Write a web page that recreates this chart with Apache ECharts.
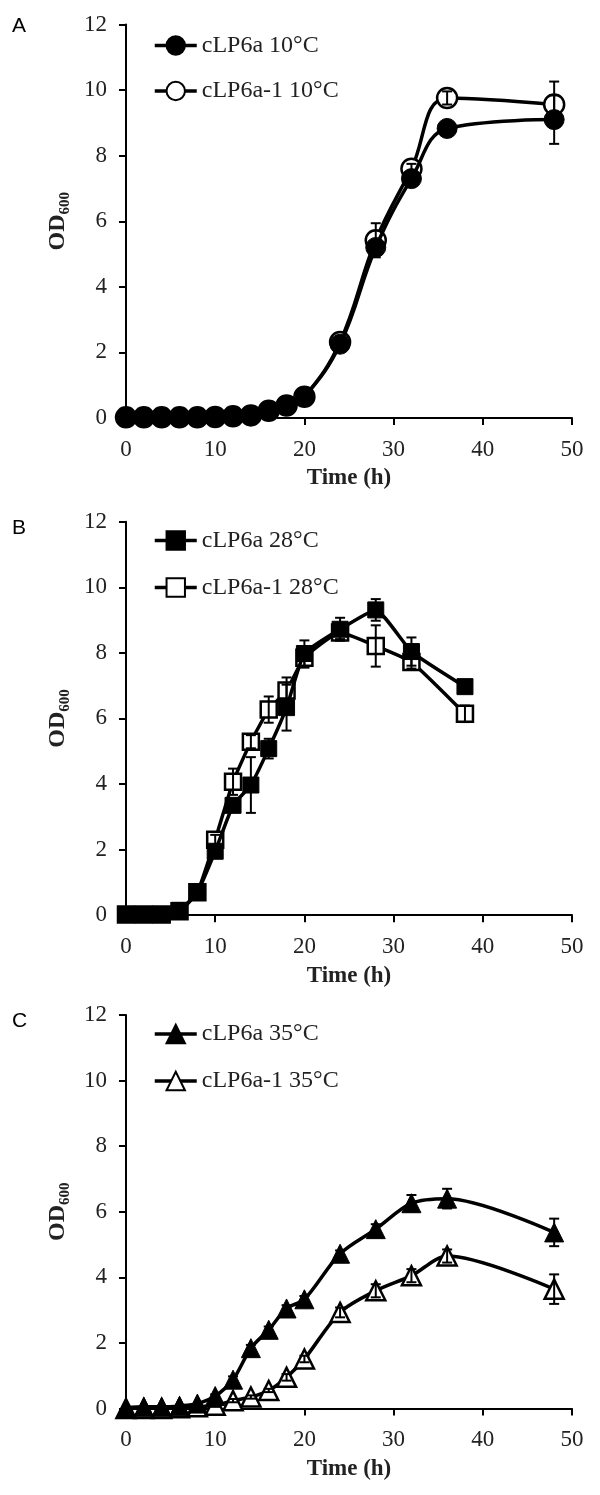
<!DOCTYPE html>
<html><head><meta charset="utf-8">
<script src="https://cdn.jsdelivr.net/npm/echarts@6/dist/echarts.min.js"></script>
<style>html,body{margin:0;padding:0;background:#fff}#c{width:600px;height:1495px}</style>
</head><body><div id="c"></div>
<script>
// ---- data ----
const xTicks = [0, 10, 20, 30, 40, 50];
const yTicks = [0, 2, 4, 6, 8, 10, 12];

const tA = [0,2,4,6,8,10,12,14,16,18,20,24,28,32,36,48];
const a10     = [0.02,0.02,0.02,0.02,0.02,0.03,0.05,0.08,0.22,0.38,0.65,2.25,5.2,7.3,8.83,9.1];
const a10Err  = [0,0,0,0,0,0,0,0,0.03,0.05,0.05,0.12,0.2,0.15,0.2,0.74];
const a10b    = [0.02,0.02,0.02,0.02,0.02,0.03,0.05,0.08,0.22,0.38,0.65,2.32,5.42,7.6,9.76,9.56];
const a10bErr = [0,0,0,0,0,0,0,0,0.03,0.05,0.05,0.15,0.52,0.15,0.2,0.7];

const tB = [0,2,4,6,8,10,12,14,16,18,20,24,28,32,38];
const b28     = [0.02,0.02,0.02,0.15,0.7,1.95,3.35,3.97,5.08,6.33,7.98,8.72,9.31,8.04,6.97];
const b28Err  = [0,0,0,0.05,0.1,0.15,0.2,0.85,0.3,0.7,0.4,0.35,0.33,0.43,0.1];
const b28b    = [0.02,0.02,0.02,0.12,0.7,2.3,4.07,5.29,6.27,6.85,7.85,8.62,8.21,7.72,6.14];
const b28bErr = [0,0,0,0.05,0.1,0.15,0.4,0.2,0.4,0.4,0.3,0.2,0.63,0.2,0.25];

const tC = [0,2,4,6,8,10,12,14,16,18,20,24,28,32,36,48];
const c35     = [0.02,0.05,0.05,0.08,0.15,0.38,0.88,1.84,2.4,3.05,3.33,4.72,5.47,6.26,6.4,5.37];
const c35Err  = [0,0,0,0,0,0.05,0.1,0.1,0.1,0.1,0.1,0.1,0.15,0.25,0.3,0.42];
const c35b    = [0,0,0,0.02,0.05,0.1,0.24,0.35,0.55,0.95,1.51,2.93,3.59,4.05,4.65,3.64];
const c35bErr = [0,0,0,0,0,0.05,0.05,0.05,0.05,0.1,0.1,0.15,0.2,0.2,0.2,0.45];

const names = [
  ['cLP6a 10°C', 'cLP6a-1 10°C'],
  ['cLP6a 28°C', 'cLP6a-1 28°C'],
  ['cLP6a 35°C', 'cLP6a-1 35°C']
];
const panelLabels = ['A', 'B', 'C'];

// ---- layout ----
const SERIF = '"Liberation Serif","Times New Roman",serif';
const TXT = '#222';
const gridTops = [24.5, 521.7, 1015];
const plotH = 393.5;

function pairs(t, v) { return t.map((x, i) => [x, v[i]]); }
function triples(t, v, e) { return t.map((x, i) => [x, v[i], e[i]]); }

function errRender(params, api) {
  const x = api.value(0), y = api.value(1), e = api.value(2);
  if (!e) return { type: 'group', children: [] };
  const hi = api.coord([x, y + e]), lo = api.coord([x, y - e]);
  const cap = 5;
  const st = { stroke: '#000', lineWidth: 2 };
  return { type: 'group', children: [
    { type: 'line', shape: { x1: hi[0], y1: hi[1], x2: lo[0], y2: lo[1] }, style: st },
    { type: 'line', shape: { x1: hi[0] - cap, y1: hi[1], x2: hi[0] + cap, y2: hi[1] }, style: st },
    { type: 'line', shape: { x1: lo[0] - cap, y1: lo[1], x2: lo[0] + cap, y2: lo[1] }, style: st }
  ]};
}

const grids = [], xAxes = [], yAxes = [], series = [], legends = [], graphics = [];
const panelData = [
  { t: tA, f: a10, fe: a10Err, o: a10b, oe: a10bErr, sym: 'circle', size: 20, smooth: 0.4 },
  { t: tB, f: b28, fe: b28Err, o: b28b, oe: b28bErr, sym: 'rect', size: 16, smooth: 0.15 },
  { t: tC, f: c35, fe: c35Err, o: c35b, oe: c35bErr, sym: 'triangle', size: 19, smooth: 0.3 }
];
const legendTops = [33.5, 528.5, 1022];
const legendGaps = [21.5, 23, 23];
const labelTops = [16, 518, 1011];

panelData.forEach((p, i) => {
  grids.push({ left: 126, right: 28, top: gridTops[i], height: plotH });
  xAxes.push({
    gridIndex: i, type: 'value', min: xTicks[0], max: xTicks[xTicks.length - 1], interval: xTicks[1] - xTicks[0],
    name: 'Time (h)', nameLocation: 'middle', nameGap: 49,
    nameTextStyle: { fontFamily: SERIF, fontWeight: 'bold', fontSize: 23, color: TXT },
    axisLine: { lineStyle: { color: '#000', width: 2 } },
    axisTick: { show: true, length: 7, lineStyle: { color: '#000', width: 2 } },
    axisLabel: { fontFamily: SERIF, fontSize: 23, color: TXT, margin: 20 },
    splitLine: { show: false }
  });
  yAxes.push({
    gridIndex: i, type: 'value', min: yTicks[0], max: yTicks[yTicks.length - 1], interval: yTicks[1] - yTicks[0],
    name: '{a|OD}{b|600}', nameLocation: 'middle', nameGap: 46,
    nameTextStyle: {
      rich: {
        a: { fontFamily: SERIF, fontWeight: 'bold', fontSize: 24, color: TXT, lineHeight: 30, verticalAlign: 'middle' },
        b: { fontFamily: SERIF, fontWeight: 'bold', fontSize: 15, color: TXT, lineHeight: 30, verticalAlign: 'bottom' }
      }
    },
    axisLine: { show: true, lineStyle: { color: '#000', width: 2 } },
    axisTick: { show: true, length: 7, lineStyle: { color: '#000', width: 2 } },
    axisLabel: { fontFamily: SERIF, fontSize: 23, color: TXT, margin: 19 },
    splitLine: { show: false }
  });
  const common = {
    type: 'line', xAxisIndex: i, yAxisIndex: i, symbol: p.sym, symbolSize: p.size,
    smooth: p.smooth, lineStyle: { color: '#000', width: 3.5 }, animation: false
  };
  series.push(Object.assign({}, common, {
    name: names[i][0], data: pairs(p.t, p.f), z: 3,
    itemStyle: { color: '#000', borderColor: '#000', borderWidth: 1 }
  }));
  series.push(Object.assign({}, common, {
    name: names[i][1], data: pairs(p.t, p.o), z: 2,
    itemStyle: { color: '#fff', borderColor: '#000', borderWidth: 2.5 }
  }));
  series.push({ type: 'custom', xAxisIndex: i, yAxisIndex: i, data: triples(p.t, p.f, p.fe),
    renderItem: errRender, encode: { x: 0, y: 1 }, z: 5, animation: false, silent: true });
  series.push({ type: 'custom', xAxisIndex: i, yAxisIndex: i, data: triples(p.t, p.o, p.oe),
    renderItem: errRender, encode: { x: 0, y: 1 }, z: 5, animation: false, silent: true });
  legends.push({
    data: names[i], left: 153, top: legendTops[i], orient: 'vertical', padding: 0,
    itemWidth: 42, itemHeight: 23, itemGap: legendGaps[i],
    lineStyle: { width: 3.5, color: '#000' },
    textStyle: { fontFamily: SERIF, fontSize: 24, color: TXT }
  });
  graphics.push({ type: 'text', left: 12, top: labelTops[i],
    style: { text: panelLabels[i], font: '21px "Liberation Sans", Arial, sans-serif', fill: '#000' } });
});

const chart = echarts.init(document.getElementById('c'), null, { renderer: 'canvas' });
chart.setOption({
  backgroundColor: '#fff', animation: false,
  grid: grids, xAxis: xAxes, yAxis: yAxes, series: series, legend: legends, graphic: graphics
});
</script></body></html>
